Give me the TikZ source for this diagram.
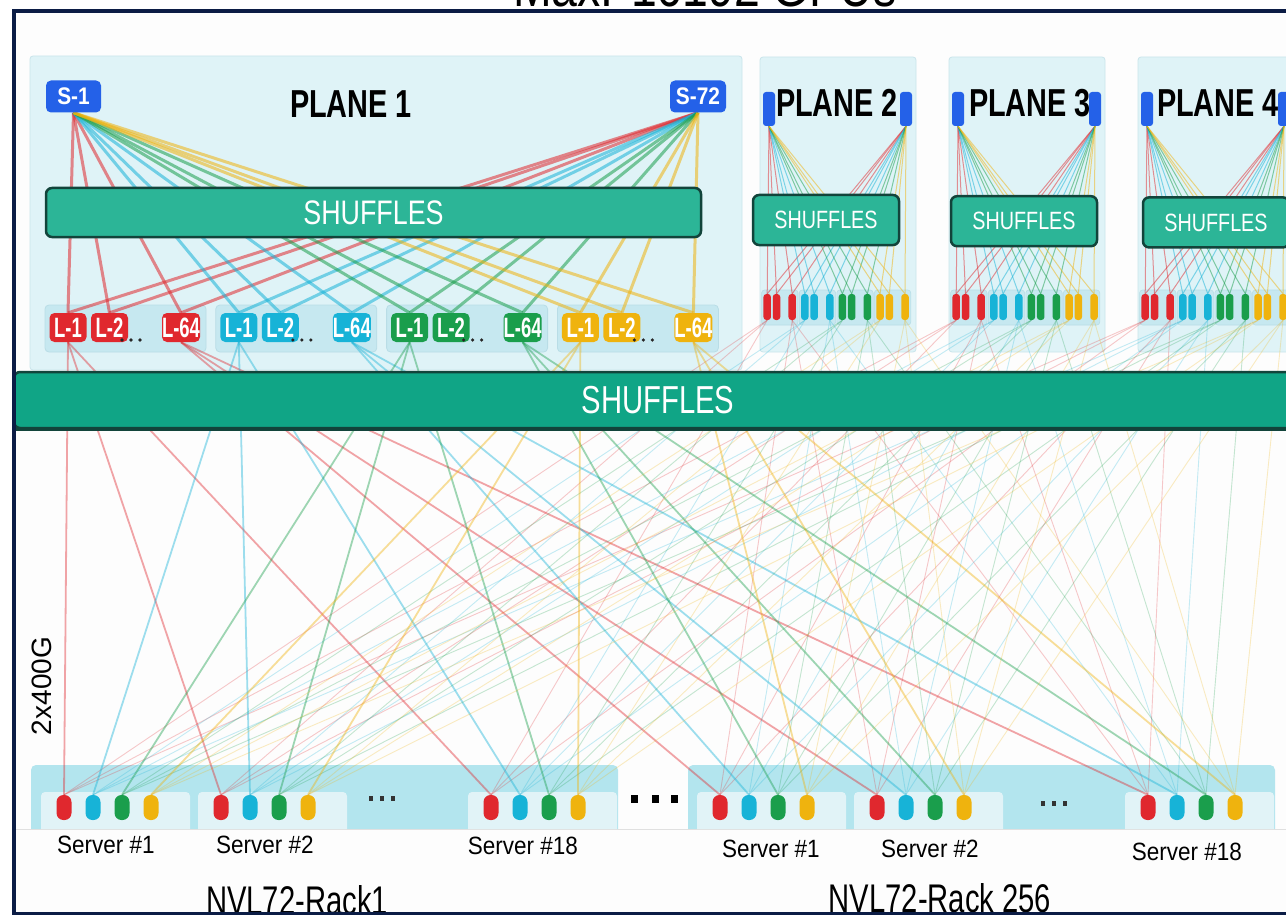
\documentclass[tikz,border=0pt]{standalone}
\usepackage{graphicx}
\usepackage{fontspec}
\setmainfont{Liberation Sans}
\newcommand{\sqz}[2]{\scalebox{#1}[1]{#2}}
\definecolor{cR}{HTML}{E0282E}
\definecolor{cB}{HTML}{17B3D7}
\definecolor{cG}{HTML}{1A9E4C}
\definecolor{cY}{HTML}{EFB30E}
\definecolor{swblue}{HTML}{2461E8}
\definecolor{panel}{HTML}{DFF3F7}
\definecolor{panelline}{HTML}{C9E5EB}
\definecolor{grp}{HTML}{C6E8F0}
\definecolor{grpline}{HTML}{B9DDE6}
\definecolor{rack}{HTML}{B3E5EE}
\definecolor{srv}{HTML}{E1F3F7}
\definecolor{shufA}{HTML}{2CB597}
\definecolor{shufB}{HTML}{10A586}
\definecolor{shufline}{HTML}{12443B}
\definecolor{framec}{HTML}{0B1C45}
\definecolor{bgin}{HTML}{FDFDFD}
\pgfdeclarelayer{bg}
\pgfdeclarelayer{lines}
\pgfsetlayers{bg,lines,main}
\tikzset{
  leafbox/.style={rectangle, rounded corners=5pt, minimum width=37pt, minimum height=29pt, inner sep=0pt, text=white, font=\fontsize{28}{28}\selectfont\bfseries},
  sbox/.style={rectangle, rounded corners=5pt, minimum width=55pt, minimum height=32pt, inner sep=0pt, fill=swblue, text=white, font=\fontsize{24}{24}\selectfont\bfseries},
  swbar/.style={rectangle, rounded corners=3pt, minimum width=12pt, minimum height=34pt, inner sep=0pt, fill=swblue},
  pill/.style={rectangle, rounded corners=3pt, minimum width=7.5pt, minimum height=26pt, inner sep=0pt},
  nic/.style={rectangle, rounded corners=7pt, minimum width=15pt, minimum height=25pt, inner sep=0pt},
  shuf/.style={rectangle, rounded corners=6pt, draw=shufline, line width=2.5pt, fill=shufA, text=white, inner sep=0pt},
  ptitle/.style={font=\fontsize{39}{39}\selectfont\bfseries, inner sep=0pt},
  lbl/.style={font=\fontsize{25}{25}\selectfont, inner sep=0pt},
  toplink/.style={line width=3pt, opacity=0.55},
  planelink/.style={line width=1pt, opacity=0.5},
  strong/.style={line width=1.8pt, opacity=0.42},
  faint/.style={line width=0.9pt, opacity=0.25},
}
\begin{document}
\begin{tikzpicture}[x=1pt,y=-1pt]
\useasboundingbox (0,0) rectangle (1286,915);
\clip (0,0) rectangle (1286,915);
\begin{pgfonlayer}{bg}
\fill[white] (0,0) rectangle (1286,915);
\fill[bgin] (14,11) rectangle (1302,914);
% plane 1 panel and leaf groups
\filldraw[fill=panel, draw=panelline, line width=0.8pt, rounded corners=3pt] (30,56) rectangle (742,370);
\foreach \c in {1,...,4}{
  \pgfmathsetmacro{\bx}{68+170.8*(\c-1)}
  \filldraw[fill=grp, draw=grpline, line width=0.8pt, rounded corners=4pt] (\bx-23,305) rectangle (\bx+138,352);
}
% racks
\fill[rack] (31,829) [rounded corners=5pt] -- (31,765) -- (618,765) [sharp corners] -- (618,829) -- cycle;
\fill[rack] (688,829) [rounded corners=5pt] -- (688,765) -- (1275,765) [sharp corners] -- (1275,829) -- cycle;
\draw[black!12, line width=0.8pt] (14,829.5) -- (1286,829.5);
\end{pgfonlayer}

% plane 1 nodes
\node[sbox] (s1) at (73.5,96.5) {\sqz{0.87}{S-1}};
\node[sbox, minimum width=56pt] (s72) at (698,96.5) {\sqz{0.87}{S-72}};
\node[ptitle] (pl1) at (351,104) {\sqz{0.74}{PLANE 1}};
\node[shuf, minimum width=655pt, minimum height=49pt, font=\fontsize{34}{34}\selectfont] (sh1) at (373.5,212.5) {\sqz{0.79}{SHUFFLES}};
\foreach \c/\col in {1/cR,2/cB,3/cG,4/cY}{
  \pgfmathsetmacro{\bx}{68+170.8*(\c-1)}
  \node[leafbox, fill=\col] (p1-\c-1) at (\bx,327.5) {\sqz{0.66}{L-1}};
  \node[leafbox, fill=\col] (p1-\c-2) at (\bx+41.5,327.5) {\sqz{0.66}{L-2}};
  \node[leafbox, fill=\col] (p1-\c-3) at (\bx+113,327.5) {\sqz{0.66}{L-64}};
  \foreach \d in {54,63,72} \fill[black!85] (\bx+\d,340) circle (1.8pt);
  \begin{pgfonlayer}{lines}
  \foreach \k in {1,2,3}{
    \draw[toplink, \col] (s1.south) -- (p1-\c-\k.north);
    \draw[toplink, \col] (s72.south) -- (p1-\c-\k.north);
  }
  \end{pgfonlayer}
}

% planes 2-4
\foreach \p/\shx/\tx in {2/826/837,3/1024/1030,4/1216/1218}{
  \pgfmathsetmacro{\ox}{189*(\p-2)}
  \begin{pgfonlayer}{bg}
    \filldraw[fill=panel, draw=panelline, line width=0.8pt, rounded corners=3pt] (760+\ox,57) rectangle (916+\ox,352);
    \foreach \c in {1,...,4}
      \filldraw[fill=grp, draw=grpline, line width=0.6pt, rounded corners=3pt] (761.6+\ox+37.6*\c-37.6,290) rectangle (798+\ox+37.6*\c-37.6,325);
  \end{pgfonlayer}
  \node[swbar] (sw-\p-l) at (769+\ox,109) {};
  \node[swbar] (sw-\p-r) at (906+\ox,109) {};
  \node[ptitle] (pl\p) at (\tx,103) {\sqz{0.74}{PLANE \p}};
  \node[shuf, minimum width=146pt, minimum height=50pt, font=\fontsize{25}{25}\selectfont] (sh-\p) at (\shx,217.6+1.2*\p) {\sqz{0.79}{SHUFFLES}};
  \foreach \c/\col in {1/cR,2/cB,3/cG,4/cY}{
    \foreach \k/\dk in {1/0,2/9.3,3/25}{
      \node[pill, fill=\col] (pp-\p-\c-\k) at (767.2+\ox+37.6*\c-37.6+\dk,307) {};
      \begin{pgfonlayer}{lines}
        \draw[planelink, \col] (sw-\p-l.south) -- (pp-\p-\c-\k.north);
        \draw[planelink, \col] (sw-\p-r.south) -- (pp-\p-\c-\k.north);
      \end{pgfonlayer}
    }
  }
}

% servers
\foreach \r/\s/\bx in {1/1/64,1/2/221,1/3/491,2/1/720,2/2/877,2/3/1148}{
  \begin{pgfonlayer}{bg}
    \fill[srv] (\bx-23,829) [rounded corners=4pt] -- (\bx-23,792) -- (\bx+126,792) [sharp corners] -- (\bx+126,829) -- cycle;
  \end{pgfonlayer}
  \foreach \c/\col in {1/cR,2/cB,3/cG,4/cY}
    \node[nic, fill=\col] (n-\r-\s-\c) at (\bx+29*\c-29,807.5) {};
}

% links from leaves to servers
\begin{pgfonlayer}{lines}
\foreach \c/\col in {1/cR,2/cB,3/cG,4/cY}{
  \foreach \s in {1,2,3}{
    \draw[strong, \col] (p1-\c-1.south) -- (n-1-\s-\c.north);
    \draw[strong, \col] (p1-\c-3.south) -- (n-2-\s-\c.north);
    \foreach \p in {2,3,4}{
      \draw[faint, \col] (pp-\p-\c-1.south) -- (n-1-\s-\c.north);
      \draw[faint, \col] (pp-\p-\c-3.south) -- (n-2-\s-\c.north);
    }
  }
}
\end{pgfonlayer}

% big shuffles
\fill[shufline] (16,377) rectangle (1302,431);
\node[shuf, fill=shufB, line width=2.5pt, minimum width=1288pt, minimum height=56pt, font=\fontsize{39}{39}\selectfont] (bigsh) at (658,400) {\sqz{0.75}{SHUFFLES}};

% ellipses
\foreach \x in {371,382,393} \fill[black!80] (\x-2,796) rectangle (\x+2,801);
\foreach \x in {1043,1054,1065} \fill[black!80] (\x-2,801) rectangle (\x+2,806);
\foreach \x in {634,655,674} \fill[black] (\x-3.5,795) rectangle (\x+3.5,803);

% labels
\node[lbl] (l11) at (106,845) {\sqz{0.9}{Server \#1}};
\node[lbl] (l12) at (265,845) {\sqz{0.9}{Server \#2}};
\node[lbl] (l13) at (523,846) {\sqz{0.9}{Server \#18}};
\node[lbl] (l21) at (771,849) {\sqz{0.9}{Server \#1}};
\node[lbl] (l22) at (930,849) {\sqz{0.9}{Server \#2}};
\node[lbl] (l23) at (1187,852) {\sqz{0.9}{Server \#18}};
\node[anchor=base, font=\fontsize{40}{40}\selectfont, inner sep=0pt] (rk1) at (297,914) {\sqz{0.73}{NVL72-Rack1}};
\node[anchor=base, font=\fontsize{40}{40}\selectfont, inner sep=0pt] (rk2) at (940,912) {\sqz{0.73}{NVL72-Rack 256}};
\node[rotate=90, font=\fontsize{28}{28}\selectfont, inner sep=0pt] (bw) at (42,686) {2x400G};
\node[anchor=base, font=\fontsize{58}{58}\selectfont, inner sep=0pt] (ttl) at (705,7) {\sqz{0.8}{Max. 16192 GPUs}};

% frame
\draw[framec, line width=3.5pt] (14,11) rectangle (1302,914);
\end{tikzpicture}
\end{document}
